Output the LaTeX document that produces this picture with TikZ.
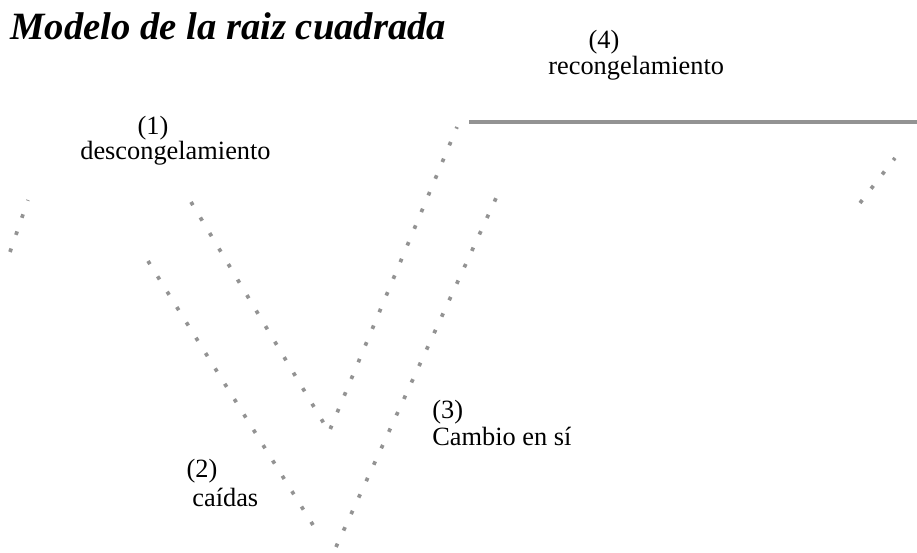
\documentclass[tikz,border=0pt]{standalone}
\usepackage{fontspec}
\setmainfont{Liberation Serif}
\usetikzlibrary{positioning}

\begin{document}
\begin{tikzpicture}[
        x=0.02cm, y=-0.02cm,
        dotline/.style={gray!85, line width=2.1pt, dash pattern=on 2.1pt off 8.2pt},
        flatline/.style={gray!85, line width=1.8pt},
        phasetext/.style={font=\fontsize{15}{17}\selectfont, inner sep=0pt, anchor=base},
    ]
    \useasboundingbox (0,0) rectangle (917,553);

    %% ---- Title ----
    \node[anchor=base west, inner sep=0pt, font=\fontsize{22}{26}\selectfont\bfseries\itshape]
        (title) at (10,40) {Modelo de la raiz cuadrada};

    %% ---- Dotted curves ----
    \coordinate (l0a) at (10,252);   \coordinate (l0b) at (28,200);
    \coordinate (v1a) at (191,202);  \coordinate (v1b) at (329,432);
    \coordinate (v1c) at (457,127);
    \coordinate (v2a) at (148,261);  \coordinate (v2b) at (318,533);
    \coordinate (v2c) at (336,547);  \coordinate (v2d) at (497,196);
    \coordinate (r0a) at (860,203);  \coordinate (r0b) at (895,158);

    \draw[dotline] (l0a) -- (l0b);
    \draw[dotline] (v1a) -- (v1b) -- (v1c);
    \draw[dotline] (v2a) -- (v2b);
    \draw[dotline] (v2c) -- (v2d);
    \draw[dotline] (r0a) -- (r0b);

    % solid line = new level
    \coordinate (flatA) at (469,122);
    \coordinate (flatB) at (917,122);
    \draw[flatline] (flatA) -- (flatB);

    %% ---- Phase labels ----
    \node[phasetext] (n4) at (604,49) {(4)};
    \node[phasetext, anchor=base west] (t4) at (548,75) {recongelamiento};

    \node[phasetext] (n1) at (153,135) {(1)};
    \node[phasetext, anchor=base west] (t1) at (80,160) {descongelamiento};

    \node[phasetext, anchor=base west] (n3) at (432,419) {(3)};
    \node[phasetext, anchor=base west] (t3) at (432,446) {Cambio en sí};

    \node[phasetext] (n2) at (202,478) {(2)};
    \node[phasetext, anchor=base west] (t2) at (192,507) {caídas};

\end{tikzpicture}
\end{document}
